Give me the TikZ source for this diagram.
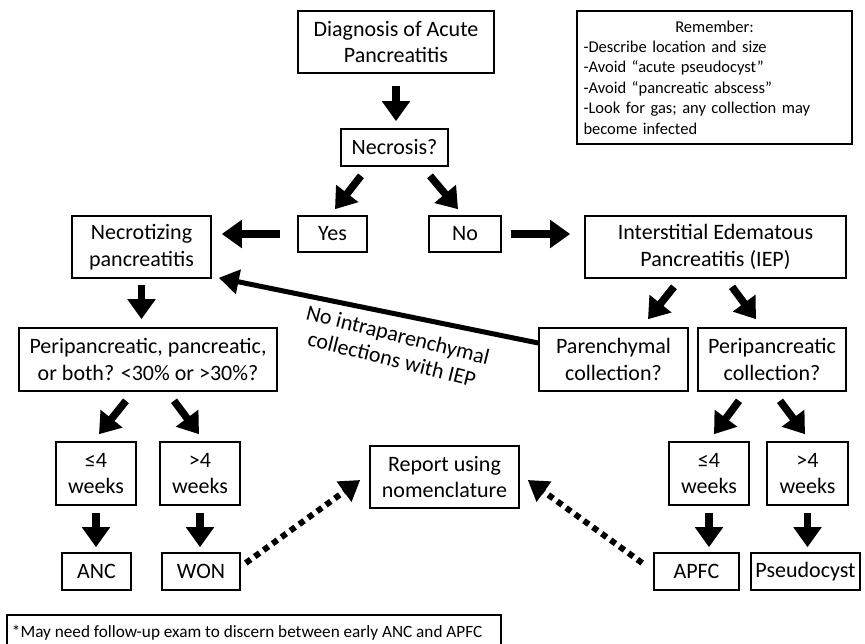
\documentclass[tikz,border=0pt]{standalone}
\usepackage{fontspec}
\setmainfont{Carlito}
\usetikzlibrary{arrows.meta,calc,shadows}

\begin{document}
\begin{tikzpicture}[x=1pt,y=-1pt,
  box/.style={draw,fill=white,line width=1.6pt,align=center,inner sep=0pt,font=\fontsize{22}{26.5}\selectfont,
    drop shadow={shadow xshift=1.2pt,shadow yshift=-1.2pt,fill=black!45}},
  bigarrow/.style={line width=7.5pt,-{Triangle[length=20pt,width=27pt]}},
  dotarrow/.style={line width=6pt,dash pattern=on 6pt off 5pt,-{Triangle[length=20pt,width=24pt]}}]
\useasboundingbox (0,0) rectangle (865,643);
% top of the chart
\node[box,minimum width=196pt,minimum height=62pt] (diag) at (396,42) {Diagnosis of Acute\\Pancreatitis};
\node[box,minimum width=107pt,minimum height=37pt] (necro) at (394.5,147.5) {Necrosis?};
\node[box,minimum width=69pt,minimum height=36pt] (yes) at (332.5,234) {Yes};
\node[box,minimum width=72pt,minimum height=36pt] (no) at (465,234) {No};
\node[box,minimum width=139pt,minimum height=62pt] (nectz) at (141.5,247) {Necrotizing\\pancreatitis};
\node[box,minimum width=261pt,minimum height=62pt] (iep) at (715.5,247) {Interstitial Edematous\\Pancreatitis (IEP)};
\node[box,minimum width=275pt,minimum height=133pt,text width=262pt,align=left,
  font=\fontsize{16.5}{20.4}\selectfont] (rem) at (714.5,77.5)
  {\centering Remember:\par\raggedright -Describe location and size\\-Avoid “acute pseudocyst”\\-Avoid “pancreatic abscess”\\-Look for gas; any collection may\\become infected\par};
% left branch
\node[box,minimum width=258pt,minimum height=63pt] (peri) at (148,359.5) {Peripancreatic, pancreatic,\\or both? <30\% or >30\%?};
\node[box,minimum width=80pt,minimum height=63pt] (lwa) at (96,473.5) {≤4\\weeks};
\node[box,minimum width=80pt,minimum height=63pt] (gwa) at (200,473.5) {>4\\weeks};
\node[box,minimum width=69pt,minimum height=37pt] (anc) at (96.5,571.5) {ANC};
\node[box,minimum width=78pt,minimum height=37pt] (won) at (201,571.5) {WON};
% right branch
\node[box,minimum width=149pt,minimum height=63pt] (paren) at (613.5,359.5) {Parenchymal\\collection?};
\node[box,minimum width=148pt,minimum height=63pt] (pcoll) at (772,359.5) {Peripancreatic\\collection?};
\node[box,minimum width=80pt,minimum height=63pt] (lwb) at (709,473.5) {≤4\\weeks};
\node[box,minimum width=81pt,minimum height=63pt] (gwb) at (807.5,473.5) {>4\\weeks};
\node[box,minimum width=85pt,minimum height=37pt] (apfc) at (696.5,571.5) {APFC};
\node[box,minimum width=109pt,minimum height=37pt] (pseudo) at (805.5,571.5) {Pseudocyst};
\node[box,minimum width=149pt,minimum height=62pt] (report) at (444.5,477) {Report using\\nomenclature};
% footnote, cut off at the bottom
\node[box,minimum width=494pt,minimum height=36pt,
  font=\fontsize{17.2}{20}\selectfont] (foot) at (254,633)
  {\makebox[484pt][l]{*May need follow-up exam to discern between early ANC and APFC}};
% arrows
\draw[bigarrow,shorten <=12pt,shorten >=7pt] (diag.south) -- (diag.south |- necro.north);
\draw[bigarrow] ($(necro.south)+(-33.5,9)$) -- ($(yes.north)+(2.5,-6)$);
\draw[bigarrow] ($(necro.south)+(35.5,9)$) -- ($(no.north)+(-7,-6)$);
\draw[bigarrow,shorten <=17pt,shorten >=10pt] (yes.west) -- (yes.west -| nectz.east);
\draw[bigarrow,shorten <=9pt,shorten >=14pt] (no.east) -- (no.east -| iep.west);
\draw[bigarrow,shorten <=6pt,shorten >=8pt] (nectz.south) -- (nectz.south |- peri.north);
\draw[bigarrow] ($(iep.south)+(-41.5,8)$) -- ($(paren.north)+(34.5,-8)$);
\draw[bigarrow] ($(iep.south)+(16.5,8)$) -- ($(pcoll.north)+(-16,-8)$);
\draw[line width=5pt,-{Triangle[length=20pt,width=24pt]}] ($(paren.west)+(0,-16.5)$) -- ($(nectz.south east)+(7,-1)$);
\node[rotate=-14,align=center,inner sep=0pt,font=\fontsize{22}{25}\selectfont] (lbl) at (395,347)
  {No intraparenchymal\\collections with IEP};
\draw[bigarrow] ($(peri.south)+(-22,9)$) -- ($(lwa.north)+(3,-7)$);
\draw[bigarrow] ($(peri.south)+(26,9)$) -- ($(gwa.north)+(-1,-7)$);
\draw[bigarrow,shorten <=7pt,shorten >=5pt] (lwa.south) -- (lwa.south |- anc.north);
\draw[bigarrow,shorten <=7pt,shorten >=5pt] (gwa.south) -- (gwa.south |- won.north);
\draw[bigarrow] ($(pcoll.south)+(-33,9)$) -- ($(lwb.north)+(5,-7)$);
\draw[bigarrow] ($(pcoll.south)+(8,9)$) -- ($(gwb.north)+(-2.5,-7)$);
\draw[bigarrow,shorten <=7pt,shorten >=5pt] (lwb.south) -- (lwb.south |- apfc.north);
\draw[bigarrow,shorten <=7pt,shorten >=5pt] (gwb.south) -- (gwb.south |- pseudo.north);
% dotted ones to the report
\draw[dotarrow] ($(won.east)+(5,-8.5)$) -- ($(report.west)+(-9,3)$);
\draw[dotarrow] ($(apfc.west)+(-11,-8.5)$) -- ($(report.east)+(8,3)$);
\end{tikzpicture}
\end{document}
